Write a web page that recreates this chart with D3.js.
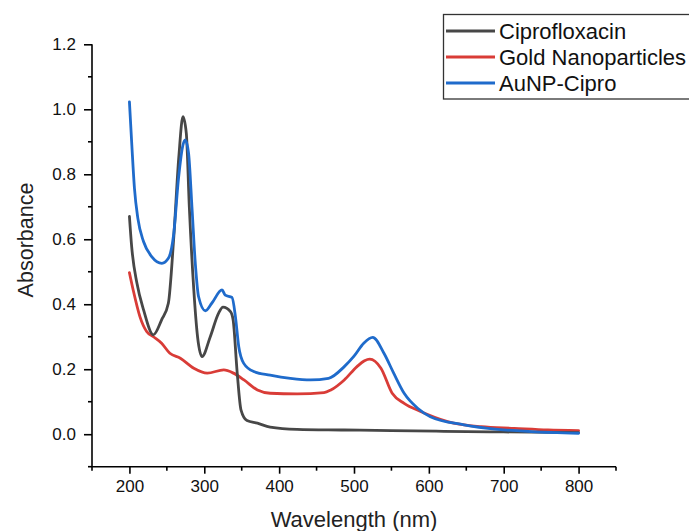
<!DOCTYPE html>
<html>
<head>
<meta charset="utf-8">
<script src="https://cdn.jsdelivr.net/npm/d3@7"></script>
<style>
  html, body { margin: 0; padding: 0; background: #fff; }
  svg { display: block; font-family: Arial, "Liberation Sans", sans-serif; }
</style>
</head>
<body>
<svg id="chart" width="689" height="531"></svg>
<script>
// ---- Data ----
const seriesNames = ["Ciprofloxacin", "Gold Nanoparticles", "AuNP-Cipro"];

const ciproWavelength = [200, 203, 210, 219, 232, 243, 252, 259, 266, 271.5, 276, 280, 286, 291, 297, 308, 319, 325, 335, 338.5, 344, 349, 357, 371, 388, 424, 487, 550, 620, 700, 800];
const ciproAbsorbance = [0.67, 0.577, 0.465, 0.382, 0.306, 0.352, 0.403, 0.598, 0.854, 0.977, 0.926, 0.70, 0.444, 0.30, 0.239, 0.30, 0.372, 0.391, 0.377, 0.352, 0.188, 0.075, 0.042, 0.034, 0.022, 0.015, 0.013, 0.011, 0.009, 0.007, 0.005];

const goldWavelength = [200, 205, 214, 223, 232, 243, 254, 268, 286, 304, 326, 339, 353, 371, 388, 424, 460, 469, 487, 504, 514, 521, 536, 551, 567, 589, 625, 670, 714, 759, 800];
const goldAbsorbance = [0.497, 0.444, 0.362, 0.316, 0.30, 0.28, 0.249, 0.234, 0.203, 0.188, 0.198, 0.188, 0.167, 0.136, 0.126, 0.124, 0.128, 0.136, 0.167, 0.208, 0.226, 0.231, 0.203, 0.126, 0.095, 0.07, 0.039, 0.023, 0.018, 0.013, 0.011];

const aunpWavelength = [200, 203.2, 206.7, 211.2, 218.8, 230, 243.4, 252.2, 259, 265.6, 271.5, 274.6, 279, 283.5, 288, 292.4, 301.4, 310, 323.7, 328, 337, 341.6, 346, 352.7, 366, 388, 415, 442, 466, 487, 500, 513, 525, 540, 553, 567, 585, 602, 647, 692, 737, 800];
const aunpAbsorbance = [1.023, 0.89, 0.757, 0.665, 0.593, 0.546, 0.526, 0.542, 0.613, 0.788, 0.89, 0.906, 0.865, 0.70, 0.526, 0.423, 0.38, 0.403, 0.444, 0.428, 0.421, 0.362, 0.27, 0.218, 0.193, 0.182, 0.172, 0.167, 0.172, 0.208, 0.24, 0.28, 0.298, 0.249, 0.188, 0.126, 0.08, 0.054, 0.029, 0.015, 0.008, 0.003];

const xTickValues = [200, 300, 400, 500, 600, 700, 800];
const xMinorTicks = [150, 250, 350, 450, 550, 650, 750, 850];
const yTickValues = [0.0, 0.2, 0.4, 0.6, 0.8, 1.0, 1.2];
const yMinorTicks = [-0.1, 0.1, 0.3, 0.5, 0.7, 0.9, 1.1];

const colors = ["#474747", "#d93c37", "#1f6bcb"];

// ---- Layout ----
const svg = d3.select("#chart");
const x = d3.scaleLinear().domain([150, 850]).range([92, 616]);
const y = d3.scaleLinear().domain([-0.1, 1.2]).range([466.7, 44.3]);

const series = [
  { name: seriesNames[0], w: ciproWavelength, a: ciproAbsorbance, color: colors[0] },
  { name: seriesNames[1], w: goldWavelength, a: goldAbsorbance, color: colors[1] },
  { name: seriesNames[2], w: aunpWavelength, a: aunpAbsorbance, color: colors[2] }
];

const line = d3.line()
  .x(d => x(d[0]))
  .y(d => y(d[1]))
  .curve(d3.curveMonotoneX);

// draw curves: gold, cipro, then aunp on top
[1, 0, 2].forEach(i => {
  const s = series[i];
  svg.append("path")
    .attr("d", line(s.w.map((w, j) => [w, s.a[j]])))
    .attr("fill", "none")
    .attr("stroke", s.color)
    .attr("stroke-width", 2.8)
    .attr("stroke-linejoin", "round")
    .attr("stroke-linecap", "round");
});

// ---- Axes ----
const xAxis = d3.axisBottom(x).tickValues(xTickValues).tickFormat(d3.format("d")).tickSize(7).tickPadding(6);
const gx = svg.append("g").attr("transform", `translate(0,${y(-0.1)})`).call(xAxis);
gx.select(".domain").attr("d", `M${x(150)},0H${x(850)}`).attr("stroke", "#000").attr("stroke-width", 1.6);
gx.selectAll(".tick line").attr("stroke", "#000").attr("stroke-width", 1.6);
gx.selectAll(".tick text").attr("font-size", 17).attr("fill", "#111").attr("font-family", "Arial, 'Liberation Sans', sans-serif");
gx.selectAll(".minor").data(xMinorTicks).enter().append("line")
  .attr("x1", d => x(d)).attr("x2", d => x(d)).attr("y1", 0).attr("y2", 4)
  .attr("stroke", "#000").attr("stroke-width", 1.6);

const yAxis = d3.axisLeft(y).tickValues(yTickValues).tickFormat(d3.format(".1f")).tickSize(8).tickPadding(8);
const gy = svg.append("g").attr("transform", `translate(${x(150)},0)`).call(yAxis);
gy.select(".domain").attr("d", `M0,${y(-0.1)}V${y(1.2)}`).attr("stroke", "#000").attr("stroke-width", 1.6);
gy.selectAll(".tick line").attr("stroke", "#000").attr("stroke-width", 1.6);
gy.selectAll(".tick text").attr("font-size", 17).attr("fill", "#111").attr("font-family", "Arial, 'Liberation Sans', sans-serif");
gy.selectAll(".minor").data(yMinorTicks).enter().append("line")
  .attr("x1", -4).attr("x2", 0).attr("y1", d => y(d)).attr("y2", d => y(d))
  .attr("stroke", "#000").attr("stroke-width", 1.6);

// Axis titles
svg.append("text")
  .attr("x", (x(150) + x(850)) / 2).attr("y", 527)
  .attr("text-anchor", "middle").attr("font-size", 22).attr("fill", "#222")
  .text("Wavelength (nm)");

svg.append("text")
  .attr("transform", "translate(33,240) rotate(-90)")
  .attr("text-anchor", "middle").attr("font-size", 21.5).attr("fill", "#222")
  .text("Absorbance");

// ---- Legend ----
const lg = svg.append("g");
lg.append("rect").attr("x", 443.5).attr("y", 14.5).attr("width", 260).attr("height", 84.5)
  .attr("fill", "#fff").attr("stroke", "#333").attr("stroke-width", 1.3);
series.forEach((s, i) => {
  const ly = 31 + i * 26;
  lg.append("line").attr("x1", 446).attr("x2", 495).attr("y1", ly).attr("y2", ly)
    .attr("stroke", s.color).attr("stroke-width", 3);
  lg.append("text").attr("x", 499).attr("y", ly).attr("dy", "0.36em")
    .attr("font-size", 22).attr("fill", "#111").text(s.name);
});
</script>
</body>
</html>
